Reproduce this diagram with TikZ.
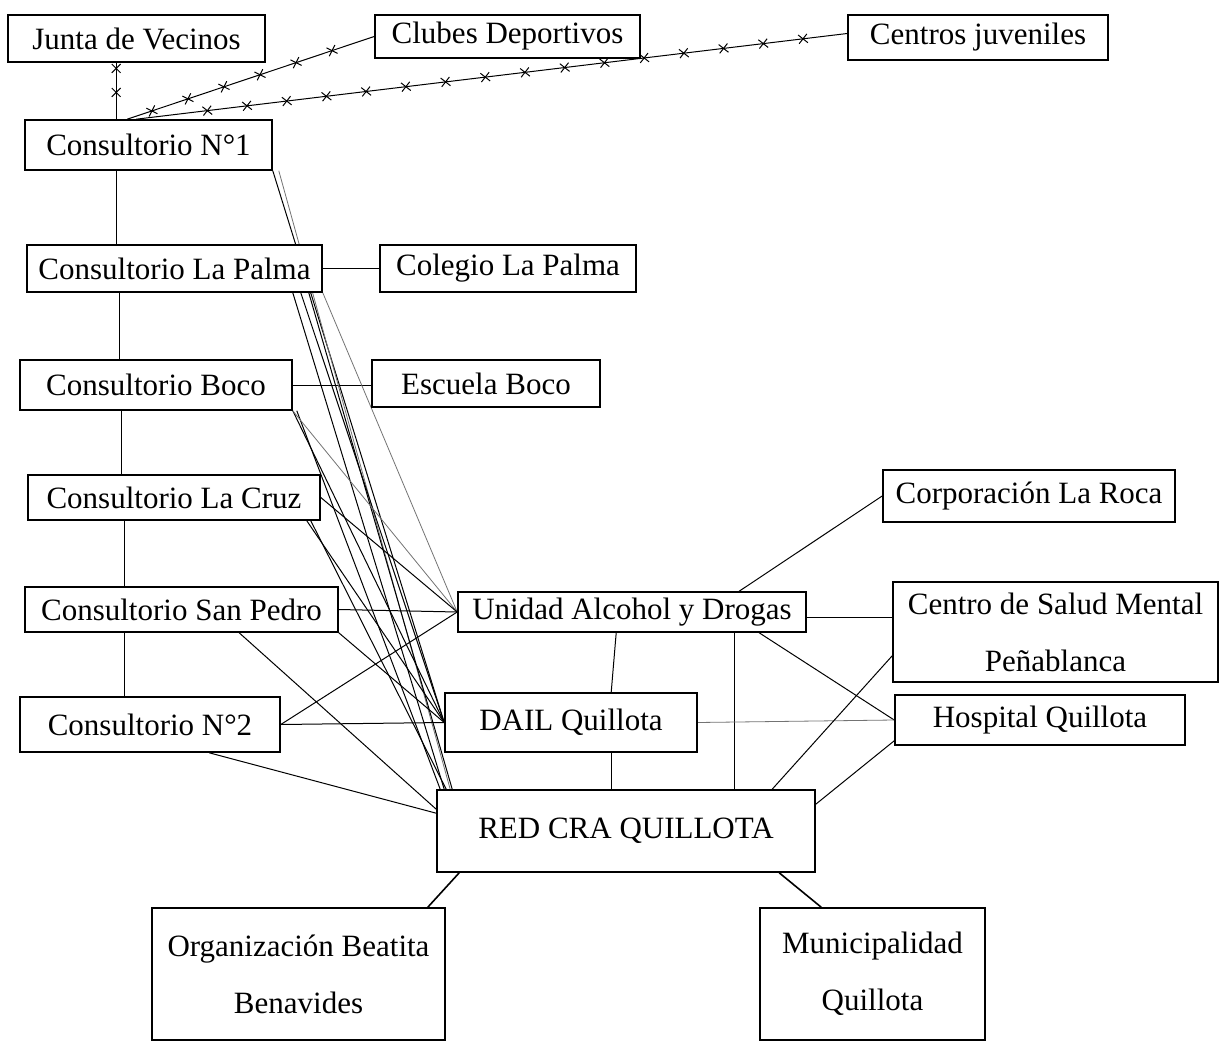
\documentclass[tikz,border=0pt]{standalone}
\usepackage{fontspec}
\setmainfont{Liberation Serif}
\usetikzlibrary{calc,decorations.markings,backgrounds}

\tikzset{
  org/.style={draw, rectangle, fill=white, line width=0.8pt, inner sep=0pt,
    font=\fontsize{15.5}{28.5}\selectfont, align=center},
  link/.style={line width=0.5pt},
  faint/.style={line width=0.4pt, black!55},
  barbed/.style={line width=0.5pt, postaction={decorate, decoration={markings,
    mark=between positions 0.1 and 0.95 step #1 with
    {\draw[line width=0.5pt] (-2.2pt,-2.2pt) -- (2.2pt,2.2pt) (-2.2pt,2.2pt) -- (2.2pt,-2.2pt);}}}}
}

\begin{document}
\begin{tikzpicture}[x=0.5pt,y=-0.5pt]
\useasboundingbox (0,0) rectangle (1220,1043);

% Text Node
\node [org, minimum width=128.5pt, minimum height=23.5pt] (junta) at (136.5,38.5) {Junta de Vecinos};
% Text Node
\node [org, minimum width=132.5pt, minimum height=21.5pt] (clubes) at (507.5,36.5) {Clubes Deportivos};
% Text Node
\node [org, minimum width=130pt, minimum height=22.5pt] (centros) at (978,37.5) {Centros juveniles};
% Text Node
\node [org, minimum width=123.5pt, minimum height=25pt] (cons1) at (148.5,145) {Consultorio N°1};
% Text Node
\node [org, minimum width=147.5pt, minimum height=23.5pt] (palma) at (174.5,268.5) {Consultorio La Palma};
% Text Node
\node [org, minimum width=128pt, minimum height=23.5pt] (colegio) at (508,268.5) {Colegio La Palma};
% Text Node
\node [org, minimum width=136pt, minimum height=25pt] (boco) at (156,385) {Consultorio Boco};
% Text Node
\node [org, minimum width=114pt, minimum height=23.5pt] (escuela) at (486,383.5) {Escuela Boco};
% Text Node
\node [org, minimum width=146pt, minimum height=22.5pt] (cruz) at (174,497.5) {Consultorio La Cruz};
% Text Node
\node [org, minimum width=156.5pt, minimum height=22.5pt] (sanpedro) at (181.5,609.5) {Consultorio San Pedro};
% Text Node
\node [org, minimum width=130pt, minimum height=27.5pt] (cons2) at (150,724.5) {Consultorio N°2};
% Text Node
\node [org, minimum width=146pt, minimum height=26pt] (laroca) at (1029,496) {Corporación La Roca};
% Text Node
\node [org, minimum width=174pt, minimum height=20pt] (unidad) at (632,612) {Unidad Alcohol y Drogas};
% Text Node
\node [org, minimum width=162.5pt, minimum height=50pt] (csm) at (1055.5,632) {Centro de Salud Mental\\Peñablanca};
% Text Node
\node [org, minimum width=126pt, minimum height=29.5pt] (dail) at (571,722.5) {DAIL Quillota};
% Text Node
\node [org, minimum width=145pt, minimum height=25pt] (hospital) at (1040,720) {Hospital Quillota};
% Text Node
\node [org, minimum width=189pt, minimum height=41pt] (red) at (626,831) {RED CRA QUILLOTA};
% Text Node
\node [org, minimum width=146.5pt, minimum height=66pt] (beatita) at (298.5,974) {Organización Beatita\\Benavides};
% Text Node
\node [org, minimum width=112.5pt, minimum height=66pt] (muni) at (872.5,974) {Municipalidad\\Quillota};

\begin{scope}[on background layer]
%Barbed Lines
\draw [barbed=12pt] ($(junta.south west)+(109,0)$) -- ($(cons1.north west)+(92,0)$);
\draw [barbed=19pt] ($(cons1.north west)+(103,0)$) -- (clubes.west);
\draw [barbed=20pt] ($(cons1.north west)+(112,0)$) -- ($(centros.west)+(0,-4)$);

%Straight Lines
\draw [link] ($(cons1.south west)+(92,0)$) -- ($(palma.north west)+(90,0)$);
\draw [link] ($(palma.south west)+(93,0)$) -- ($(boco.north west)+(100,0)$);
\draw [link] ($(boco.south west)+(102,0)$) -- ($(cruz.north west)+(94,0)$);
\draw [link] ($(cruz.south west)+(97,0)$) -- ($(sanpedro.north west)+(100,0)$);
\draw [link] ($(sanpedro.south west)+(100,0)$) -- ($(cons2.north west)+(105,0)$);
\draw [link] (palma.east) -- (palma.east -| colegio.west);
\draw [link] (boco.east) -- (boco.east -| escuela.west);

%Straight Lines
\draw [link] (cons1.south east) -- (dail.west);
\draw [faint] ($(cons1.south east)+(6,0)$) -- ($(red.north west)+(14,0)$);
\draw [link] ($(palma.south east)+(-30,0)$) -- ($(red.north west)+(8,0)$);
\draw [link] ($(palma.south east)+(-22,0)$) -- (dail.west);
\draw [link] ($(palma.south east)+(-14,0)$) -- ($(red.north west)+(16,0)$);
\draw [faint] (palma.south east) -- (unidad.west);
\draw [link] (boco.south east) -- (dail.west);
\draw [link] ($(boco.south east)+(4,0)$) -- ($(red.north west)+(4,0)$);
\draw [faint] (boco.south east) -- (unidad.west);
\draw [link] (cruz.east) -- (unidad.west);
\draw [link] ($(cruz.south east)+(-14,0)$) -- (dail.west);
\draw [link] ($(cruz.south east)+(-10,0)$) -- ($(red.north west)+(10,0)$);
\draw [link] (sanpedro.east) -- (unidad.west);
\draw [link] (sanpedro.south east) -- (dail.west);
\draw [link] ($(sanpedro.south west)+(215,0)$) -- ($(red.north west)+(0,20)$);
\draw [link] (cons2.east) -- (unidad.west);
\draw [link] (cons2.east) -- (dail.west);
\draw [link] ($(cons2.south west)+(190,0)$) -- ($(red.north west)+(0,24)$);

%Straight Lines
\draw [link] ($(unidad.north west)+(282,0)$) -- (laroca.west);
\draw [link] ($(csm.north west)+(0,36)$) -- ($(unidad.north east)+(0,26)$);
\draw [link] ($(unidad.south west)+(302,0)$) -- (hospital.west);
\draw [link] ($(unidad.south west)+(159,0)$) -- ($(dail.north west)+(167,0)$);
\draw [link] ($(unidad.south west)+(277,0)$) -- ($(red.north west)+(298,0)$);
\draw [faint] (dail.east) -- (hospital.west);
\draw [link] ($(dail.south west)+(167,0)$) -- ($(red.north west)+(175,0)$);
\draw [link] ($(red.north west)+(336,0)$) -- ($(csm.south west)+(0,-27)$);
\draw [link] ($(red.north east)+(0,15)$) -- ($(hospital.south west)+(0,-5)$);
\draw [line width=0.8pt] ($(red.south west)+(23,0)$) -- ($(beatita.north east)+(-18,0)$);
\draw [line width=0.8pt] ($(red.south west)+(343,0)$) -- ($(muni.north west)+(62,0)$);
\end{scope}

\end{tikzpicture}
\end{document}
